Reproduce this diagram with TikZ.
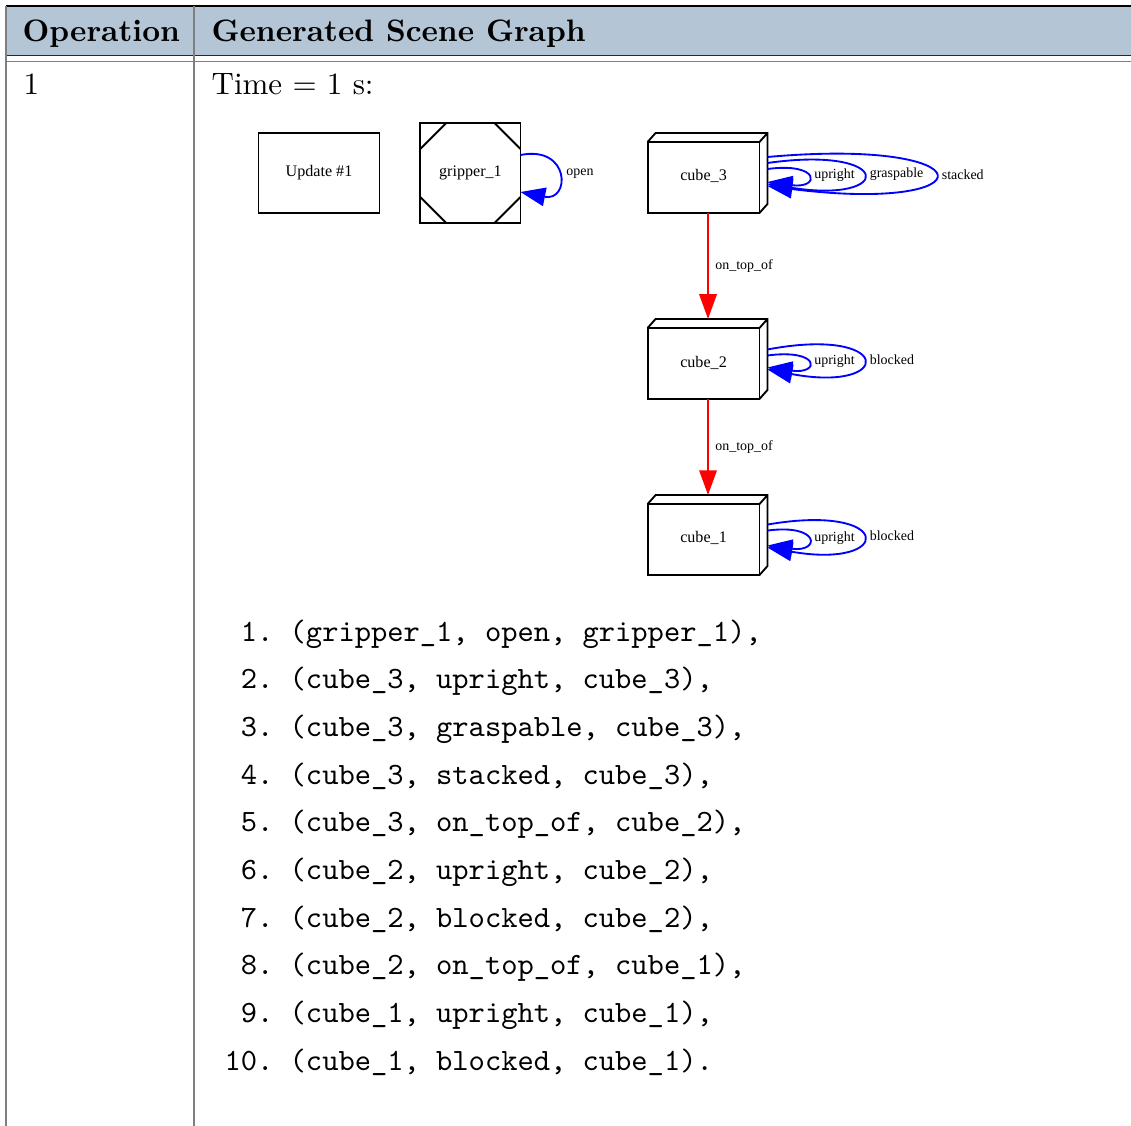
\documentclass[tikz,border=0pt]{standalone}
\usepackage{fontspec}
\newfontfamily\gvfont{Liberation Serif}
\usetikzlibrary{positioning, arrows.meta}
\definecolor{headblue}{HTML}{B4C5D5}
\definecolor{rulegray}{HTML}{7F7F7F}
\tikzset{
gvline/.style={line width=0.6pt}, % outline of the scene graph shapes
gvnode/.style={draw, gvline, inner sep=0pt, outer sep=0pt, font=\gvfont\fontsize{5.2}{6}\selectfont},
gvlabel/.style={inner sep=0pt, text=black, font=\gvfont\fontsize{4.5}{5}\selectfont},
loopedge/.style={blue, line width=0.6pt, -{Triangle[length=8pt,width=6pt]}}, % self relations
ontop/.style={red, line width=0.75pt, -{Triangle[length=8pt,width=5.6pt]}}, % relation between cubes
cell/.style={inner sep=0pt, anchor=base west},
}

\begin{document}
\begin{tikzpicture}[x=0.3226pt, y=-0.3226pt]
    \useasboundingbox (0,0) rectangle (1131,1126);

    % table frame
    \fill[headblue] (6,6) rectangle (1131,55);
    \draw[line width=0.5pt] (6,6) -- (1131,6);
    \draw[line width=0.4pt, black!85] (6,55.5) -- (1131,55.5);
    \draw[line width=0.4pt, rulegray] (6,61.5) -- (1131,61.5);
    \draw[line width=0.4pt, rulegray] (6,6) -- (6,1126);
    \draw[line width=0.4pt, rulegray] (194,6) -- (194,1126);

    \node[cell] (opHead) at (22,42) {\bfseries Operation};
    \node[cell] (sgHead) at (211,42) {\bfseries Generated Scene Graph};
    \node[cell] (opNum) at (23,95) {1};
    \node[cell] (timeLbl) at (211,95) {Time $=$ 1 s:};

    % scene graph
    \node[gvnode, minimum width=39pt, minimum height=25.8pt] (update) at (319,173) {Update \#1};
    \node[gvnode, minimum width=32.3pt, minimum height=32.3pt, right=13.2pt of update] (gripper) {gripper\_1};
    \node[gvnode, minimum width=36.1pt, minimum height=22.9pt, right=41pt of gripper, yshift=-1.45pt] (cube3) {\raisebox{1.7pt}{cube\_3}};
    \node[gvnode, minimum width=36.1pt, minimum height=22.9pt, below=37.1pt of cube3] (cube2) {\raisebox{1.3pt}{cube\_2}};
    \node[gvnode, minimum width=36.1pt, minimum height=22.9pt, below=33.9pt of cube2] (cube1) {\raisebox{1.7pt}{cube\_1}};

    \foreach \c/\sx/\sy in {north west/1/1, north east/-1/1, south west/1/-1, south east/-1/-1}
        \draw[gvline] ([shift={(0,\sy*26)}]gripper.\c) -- ([shift={(\sx*26,0)}]gripper.\c);

    \foreach \c in {cube3,cube2,cube1}
        \draw[gvline, line join=miter] (\c.north west) -- ++(8,-9) -| ([shift={(8,-9)}]\c.south east) -- (\c.south east)
              (\c.north east) -- ++(8,-9);

    \draw[loopedge] ([shift={(0,-18)}]gripper.east) .. controls +(50,-10) and +(50,10) .. node[gvlabel, right=2.4pt] (lOpen) {open} ([shift={(0,19)}]gripper.east);

    \draw[loopedge] ([shift={(8,-8.5)}]cube3.east) .. controls +(53,-7) and +(53,7) .. node[gvlabel, right=2pt] (lUp3) {upright} ([shift={(8,4.5)}]cube3.east);
    \draw[loopedge] ([shift={(8,-14.5)}]cube3.east) .. controls +(127,-18) and +(127,20) .. node[gvlabel, right=2pt] (lGrasp3) {graspable} ([shift={(8,6.5)}]cube3.east);
    \draw[loopedge] ([shift={(8,-20.5)}]cube3.east) .. controls +(223,-20) and +(223,28) .. node[gvlabel, right=2pt] (lStack3) {stacked} ([shift={(8,8.5)}]cube3.east);

    \draw[loopedge] ([shift={(8,-8)}]cube2.east) .. controls +(53,-7) and +(53,7) .. node[gvlabel, right=2pt] (lUp2) {upright} ([shift={(8,4)}]cube2.east);
    \draw[loopedge] ([shift={(8,-14)}]cube2.east) .. controls +(127,-24) and +(127,24) .. node[gvlabel, right=2pt] (lBlock2) {blocked} ([shift={(8,6)}]cube2.east);

    \draw[loopedge] ([shift={(8,-9)}]cube1.east) .. controls +(53,-7) and +(53,7) .. node[gvlabel, right=2pt] (lUp1) {upright} ([shift={(8,6)}]cube1.east);
    \draw[loopedge] ([shift={(8,-15)}]cube1.east) .. controls +(127,-22) and +(127,22) .. node[gvlabel, right=2pt] (lBlock1) {blocked} ([shift={(8,8)}]cube1.east);

    \draw[ontop] ([shift={(4.5,0)}]cube3.south) -- node[gvlabel, right=2pt] (lOn32) {on\_top\_of} ([shift={(4.5,-9)}]cube2.north);
    \draw[ontop] ([shift={(4.5,0)}]cube2.south) -- node[gvlabel, right=2pt] (lOn21) {on\_top\_of} ([shift={(4.5,-9)}]cube1.north);

    % list of triples
    \foreach \n/\trip [count=\i from 0] in {
        \phantom{0}1/{(gripper\_1, open, gripper\_1),},
        \phantom{0}2/{(cube\_3, upright, cube\_3),},
        \phantom{0}3/{(cube\_3, graspable, cube\_3),},
        \phantom{0}4/{(cube\_3, stacked, cube\_3),},
        \phantom{0}5/{(cube\_3, on\_top\_of, cube\_2),},
        \phantom{0}6/{(cube\_2, upright, cube\_2),},
        \phantom{0}7/{(cube\_2, blocked, cube\_2),},
        \phantom{0}8/{(cube\_2, on\_top\_of, cube\_1),},
        \phantom{0}9/{(cube\_1, upright, cube\_1),},
        10/{(cube\_1, blocked, cube\_1).}}
        \node[cell, font=\ttfamily] (triple\i) at (224,641+47.7*\i) {\n.\ \trip};
\end{tikzpicture}
\end{document}
